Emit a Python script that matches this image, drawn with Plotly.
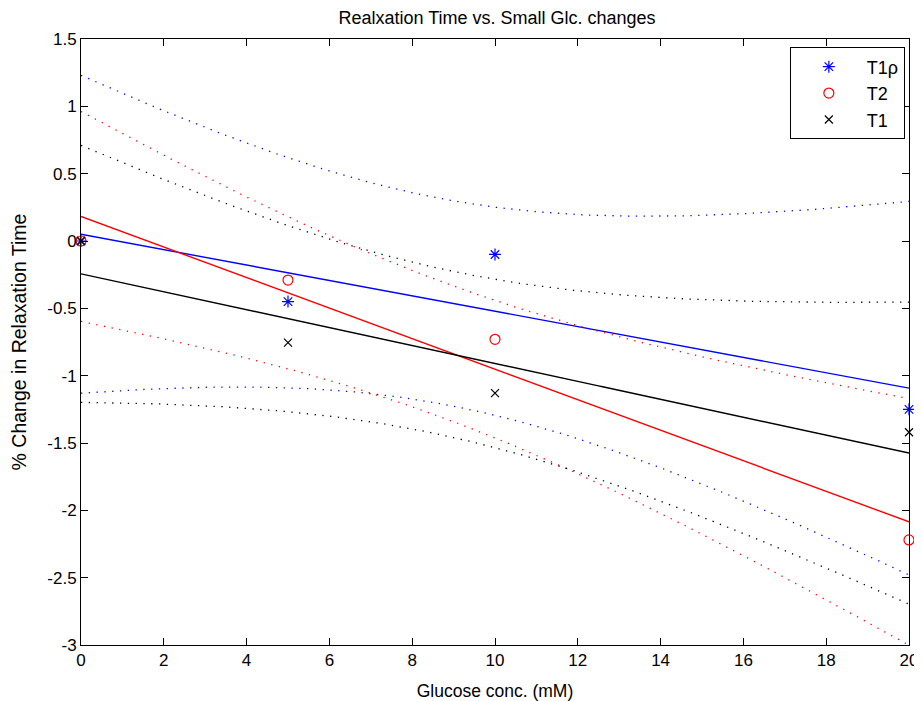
import numpy as np
import plotly.graph_objects as go

glucose = [0, 5, 10, 20]
t1rho = [0.0, -0.45, -0.10, -1.25]
t2 = [0.0, -0.29, -0.73, -2.22]
t1 = [0.0, -0.755, -1.13, -1.42]

y_tick_values = [1.5, 1, 0.5, 0, -0.5, -1, -1.5, -2, -2.5, -3]
y_tick_labels = ["1.5", "1", "0.5", "0", "-0.5", "-1", "-1.5", "-2", "-2.5", "-3"]
x_tick_values = [0, 2, 4, 6, 8, 10, 12, 14, 16, 18, 20]
x_tick_labels = ["0", "2", "4", "6", "8", "10", "12", "14", "16", "18", "20"]

series = [
    ("T1\u03c1", t1rho, "rgb(0,0,255)", "asterisk-open", 10),
    ("T2", t2, "rgb(255,0,0)", "circle-open", 10),
    ("T1", t1, "rgb(0,0,0)", "x-thin-open", 8),
]

T_CRIT = 4.303  # 95% two-sided, df = 2

x = np.array(glucose, dtype=float)
xf = np.linspace(0, 20, 201)

FONT = "Liberation Sans, Arial, sans-serif"

fig = go.Figure()
for name, ys, color, sym, size in series:
    y = np.array(ys, dtype=float)
    b, a = np.polyfit(x, y, 1)
    fit = a + b * xf
    resid = y - (a + b * x)
    s = np.sqrt(np.sum(resid ** 2) / (len(x) - 2))
    sxx = np.sum((x - x.mean()) ** 2)
    half = T_CRIT * s * np.sqrt(1 / len(x) + (xf - x.mean()) ** 2 / sxx)
    fig.add_trace(go.Scatter(x=xf, y=fit, mode="lines", line=dict(color=color, width=1.4),
                             showlegend=False, hoverinfo="skip"))
    for band in (fit + half, fit - half):
        fig.add_trace(go.Scatter(x=xf, y=band, mode="lines",
                                 line=dict(color=color, width=1.3, dash="1.3px,6.5px"),
                                 showlegend=False, hoverinfo="skip"))

for name, ys, color, sym, size in series:
    fig.add_trace(go.Scatter(x=glucose, y=ys, mode="markers", name=name, cliponaxis=False,
                             marker=dict(symbol=sym, size=size, color=color,
                                         line=dict(color=color, width=1.2))))

axis_common = dict(showline=True, linecolor="black", linewidth=1, mirror="allticks",
                   ticks="inside", ticklen=7, tickwidth=1, tickcolor="black",
                   showgrid=False, zeroline=False, automargin=False,
                   tickfont=dict(family=FONT, size=17, color="black"))

# page body has an 8px margin, so the figure is drawn 8px in from the top-left
fig.update_layout(
    width=914, height=693,
    margin=dict(l=73, r=13, t=31, b=56),
    paper_bgcolor="white", plot_bgcolor="white",
    font=dict(family=FONT, size=17, color="black"),
    title=dict(text="Realxation Time vs. Small Glc. changes", x=0.535, xanchor="center",
               y=0.986, yanchor="middle", font=dict(size=18), automargin=False),
    xaxis=dict(range=[0, 20], tickmode="array", tickvals=x_tick_values, ticktext=x_tick_labels,
               title=dict(text="Glucose conc. (mM)", font=dict(size=17.5)),
               **axis_common),
    yaxis=dict(range=[-3, 1.5], tickmode="array", tickvals=y_tick_values, ticktext=y_tick_labels,
               title=dict(text="% Change in Relaxation Time", font=dict(size=19.5)),
               **axis_common),
    legend=dict(x=0.995, y=0.986, xanchor="right", yanchor="top",
                bordercolor="black", borderwidth=1, bgcolor="white",
                font=dict(size=18), itemwidth=66),
    showlegend=True,
)

fig.write_html("out.html")
